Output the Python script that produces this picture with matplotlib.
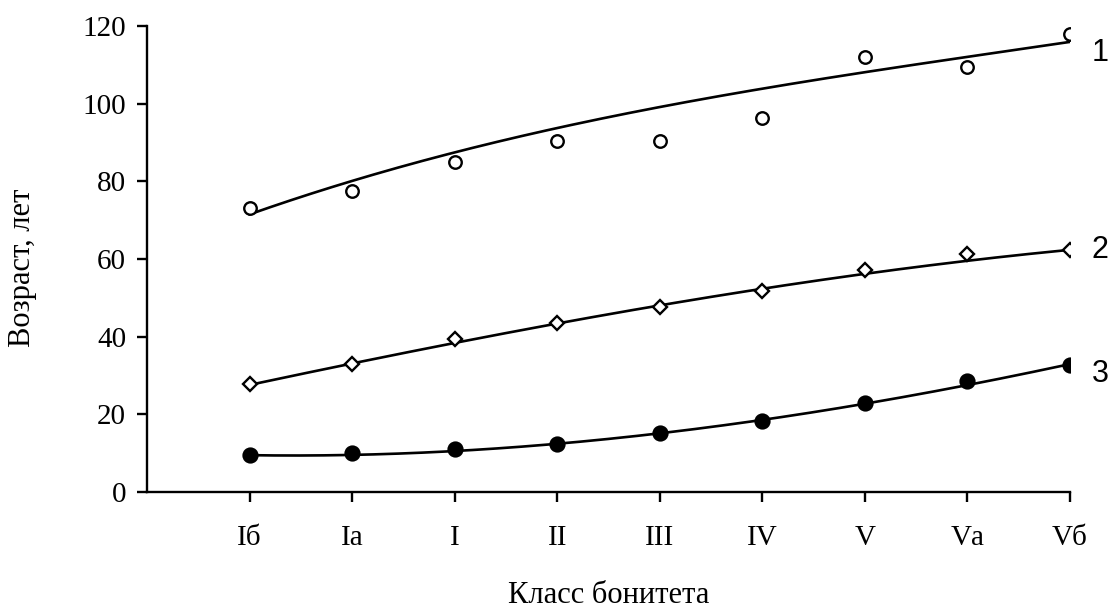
import numpy as np
import matplotlib.pyplot as plt

# классы бонитета и возраст (лет)
classes = ["Iб", "Iа", "I", "II", "III", "IV", "V", "Vа", "Vб"]

age_1 = [73.0, 77.5, 85.0, 90.4, 90.4, 96.3, 112.0, 109.4, 118.0]
age_2 = [27.8, 33.0, 39.4, 43.4, 47.7, 51.8, 57.2, 61.3, 62.3]
age_3 = [9.5, 10.1, 11.2, 12.4, 15.1, 18.4, 23.0, 28.6, 32.7]

# значения линий тренда
trend_1 = [71.3, 80.3, 87.8, 93.7, 98.4, 104.0, 108.3, 112.3, 115.7]
trend_2 = [27.6, 33.0, 38.5, 43.3, 48.2, 52.2, 56.1, 59.7, 62.3]
trend_3 = [9.3, 9.8, 10.8, 12.1, 15.1, 18.4, 22.7, 28.0, 32.7]

curve_labels = ["1", "2", "3"]
label_y = [113.0, 62.3, 30.5]

x = np.arange(1, len(classes) + 1)
xs = np.linspace(1, len(classes), 200)

fig = plt.figure(figsize=(11.13, 6.14), dpi=100)
ax = fig.add_axes([0.1321, 0.1987, 0.9614 - 0.1321, 0.9577 - 0.1987])

serif = ["Liberation Serif", "DejaVu Serif"]
sans = ["Liberation Sans", "DejaVu Sans"]

styles = [
    dict(marker="o", mfc="white", ms=9),
    dict(marker="D", mfc="white", ms=7.5),
    dict(marker="o", mfc="black", ms=10),
]

for ages, trend, st in zip([age_1, age_2, age_3], [trend_1, trend_2, trend_3], styles):
    # сглаженная линия тренда
    coef = np.polyfit(x, trend, 3)
    ax.plot(xs, np.polyval(coef, xs), color="black", lw=1.9, zorder=2)
    ax.plot(x, ages, ls="none", marker=st["marker"], mfc=st["mfc"], ms=st["ms"],
            mec="black", mew=1.7, zorder=3)

# подписи кривых справа
for lab, yy in zip(curve_labels, label_y):
    ax.text(1.0235, yy, lab, transform=ax.get_yaxis_transform(), fontsize=22,
            family=sans, va="center", ha="left", clip_on=False)

ax.set_xlim(0, len(classes))
ax.set_ylim(0, 120)
ax.set_xticks(x)
ax.set_xticklabels(classes, family=serif, fontsize=21)
ax.set_yticks(np.arange(0, 121, 20))
ax.set_yticklabels([str(v) for v in range(0, 121, 20)], family=serif, fontsize=21)

ax.tick_params(axis="both", direction="out", length=7, width=1.7, color="black")
ax.tick_params(axis="x", pad=17)
ax.tick_params(axis="y", pad=8)

for side in ["top", "right"]:
    ax.spines[side].set_visible(False)
for side in ["left", "bottom"]:
    ax.spines[side].set_linewidth(1.7)

ax.set_xlabel("Класс бонитета", family=serif, fontsize=22)
ax.set_ylabel("Возраст, лет", family=serif, fontsize=22)
ax.xaxis.set_label_coords(0.5, -0.222)
ax.xaxis.label.set_va("center")
ax.yaxis.set_label_coords(-0.1345, 0.482)
ax.yaxis.label.set_va("center")

fig.savefig("out.png", dpi=100)
